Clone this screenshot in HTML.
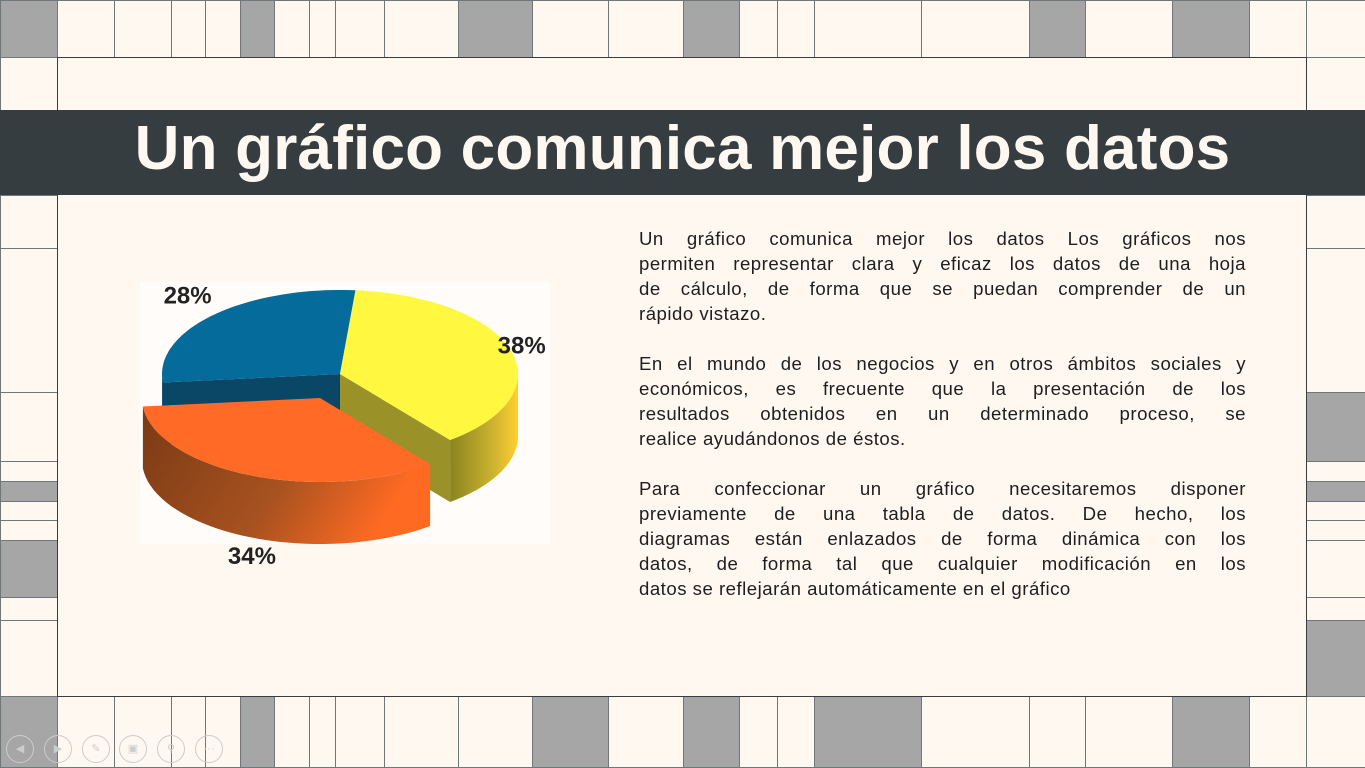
<!DOCTYPE html>
<html><head><meta charset="utf-8">
<style>
html,body{margin:0;padding:0;}
body{width:1365px;height:767px;position:relative;overflow:hidden;background:#fff8f0;font-family:"Liberation Sans",sans-serif;}
.c{position:absolute;box-sizing:border-box;border:1px solid #6f7779;background:#fff8f0;}
.g{background:#a6a6a6;}
#frame{position:absolute;left:57px;top:57px;width:1250px;height:640px;box-sizing:border-box;border:1.5px solid #3a3d3f;background:#fff8f0;}
#title-bar{position:absolute;left:0;top:110px;width:1365px;height:85px;background:#363d40;}
#title{position:absolute;left:0;top:110px;width:1365px;height:85px;line-height:78px;text-align:center;color:#fff8f0;font-weight:bold;font-size:62px;letter-spacing:0.2px;margin:0;}
#text{position:absolute;left:639px;top:226px;width:607px;font-size:18.6px;letter-spacing:0.5px;color:#1e1e1e;line-height:25px;}
.l{text-align:justify;text-align-last:justify;white-space:nowrap;}
.last{text-align:left;text-align-last:left;}
.sp{height:25px;}
.nav{position:absolute;top:735px;width:28px;height:28px;border-radius:50%;border:1px solid #ccc;box-sizing:border-box;color:#ccc;font-size:11px;text-align:center;line-height:26px;}
</style></head><body>
<div id="grid"></div>
<div id="frame"></div>
<div id="title-bar"></div>
<h1 id="title">Un gráfico comunica mejor los datos</h1>

<svg id="pie" width="1365" height="767" style="position:absolute;left:0;top:0">
<defs>
<linearGradient id="og" x1="0" y1="0" x2="1" y2="0.3"><stop offset="0" stop-color="#7a3a14"/><stop offset="0.6" stop-color="#a85220"/><stop offset="1" stop-color="#ff6a22"/></linearGradient>
<linearGradient id="yg" x1="0" y1="0" x2="1" y2="0"><stop offset="0" stop-color="#8a8420"/><stop offset="0.6" stop-color="#c9b030"/><stop offset="1" stop-color="#ffd030"/></linearGradient>
<linearGradient id="bg" x1="0" y1="0" x2="1" y2="0"><stop offset="0" stop-color="#0b3d5c"/><stop offset="1" stop-color="#044a70"/></linearGradient>
</defs>
<rect x="140" y="282" width="410" height="262" fill="#ffffff" opacity="0.6"/>
</svg>

<div id="text">
<div class="l">Un gráfico comunica mejor los datos Los gráficos nos</div>
<div class="l">permiten representar clara y eficaz los datos de una hoja</div>
<div class="l">de cálculo, de forma que se puedan comprender de un</div>
<div class="l last">rápido vistazo.</div>
<div class="sp"></div>
<div class="l">En el mundo de los negocios y en otros ámbitos sociales y</div>
<div class="l">económicos, es frecuente que la presentación de los</div>
<div class="l">resultados obtenidos en un determinado proceso, se</div>
<div class="l last">realice ayudándonos de éstos.</div>
<div class="sp"></div>
<div class="l">Para confeccionar un gráfico necesitaremos disponer</div>
<div class="l">previamente de una tabla de datos. De hecho, los</div>
<div class="l">diagramas están enlazados de forma dinámica con los</div>
<div class="l">datos, de forma tal que cualquier modificación en los</div>
<div class="l last">datos se reflejarán automáticamente en el gráfico</div>
</div>

<div class="nav" style="left:6px">◀</div>
<div class="nav" style="left:44px">▶</div>
<div class="nav" style="left:82px">✎</div>
<div class="nav" style="left:119px">▣</div>
<div class="nav" style="left:157px">⚲</div>
<div class="nav" style="left:195px">···</div>

<script>
const grid=document.getElementById('grid');
function cell(x0,y0,x1,y1,gray,name){
  const d=document.createElement('div');
  d.className='c'+(gray?' g':'');
  d.style.left=x0+'px';d.style.top=y0+'px';d.style.width=(x1-x0+1)+'px';d.style.height=(y1-y0+1)+'px';
  
  
  grid.appendChild(d);
}
const xs=[0,57,114,171,205,240,274,309,335,384,458,532,608,683,739,777,814,921,1029,1085,1172,1249,1306,1365];
const topGray=[0,240,458,683,1029,1172];
const botGray=[0,240,532,683,814,1172];
for(let i=0;i<xs.length-1;i++){
  cell(xs[i],0,xs[i+1],57,topGray.includes(xs[i]),'top-tile');
  cell(xs[i],696,xs[i+1],767,botGray.includes(xs[i]),'bottom-tile');
}
const ly=[57,110,195,248,392,461,481,501,520,540,597,620,696];
const leftGray=[481,540];
const rightGray=[392,481,620];
for(let i=0;i<ly.length-1;i++){
  cell(0,ly[i],57,ly[i+1],leftGray.includes(ly[i]),'left-tile');
  cell(1306,ly[i],1365,ly[i+1],rightGray.includes(ly[i]),'right-tile');
}

// pie data
const categories=['Amarillo','Naranja','Azul'];
const values=[38,34,28];
const labels=['38%','34%','28%'];
const colors=['#fff740','#ff6a26','#046b9a'];
const sides=['url(#yg)','url(#og)','url(#bg)'];

const svg=document.getElementById('pie');
const NS='http://www.w3.org/2000/svg';
const cx=340,cy=374,rx=178,ry=84,depth=62,startDeg=5;
const explode=[[0,0],[-20,24],[0,0]];
function pt(a,ox,oy,dy){const r=a*Math.PI/180;return [cx+ox+rx*Math.sin(r),cy+oy-ry*Math.cos(r)+dy];}
const total=values.reduce((a,b)=>a+b,0);
let acc=startDeg;const slices=[];
values.forEach((v,i)=>{const a0=acc,a1=acc+v/total*360;slices.push({a0,a1,i});acc=a1;});
function add(tag,attrs,name){const e=document.createElementNS(NS,tag);for(const k in attrs)e.setAttribute(k,attrs[k]);
  
  
  svg.appendChild(e);return e;}
function cutFace(a,ox,oy,fill){
  const p=pt(a,ox,oy,0),q=pt(a,ox,oy,depth);
  const d=`M${cx+ox} ${cy+oy}L${p[0]} ${p[1]}L${q[0]} ${q[1]}L${cx+ox} ${cy+oy+depth}Z`;
  add('path',{d,fill},'pie-cut-face');
}
const order=[2,0,1];
order.forEach(i=>{
  const s=slices[i];const [ox,oy]=explode[i];
  if(i===2) cutFace(s.a0,ox,oy,'#0a4766');
  if(i===0) cutFace(s.a1,ox,oy,'#9a9228');
  const lo=Math.max(s.a0,90),hi=Math.min(s.a1,270);
  if(hi>lo){
    let d='';const n=40;
    for(let k=0;k<=n;k++){const a=lo+(hi-lo)*k/n;const p=pt(a,ox,oy,0);d+=(k?'L':'M')+p[0].toFixed(1)+' '+p[1].toFixed(1);}
    for(let k=n;k>=0;k--){const a=lo+(hi-lo)*k/n;const p=pt(a,ox,oy,depth);d+='L'+p[0].toFixed(1)+' '+p[1].toFixed(1);}
    add('path',{d:d+'Z',fill:sides[i]},'pie-side-'+categories[i].toLowerCase());
  }
  let d=`M${cx+ox} ${cy+oy}`;const n=60;
  for(let k=0;k<=n;k++){const a=s.a0+(s.a1-s.a0)*k/n;const p=pt(a,ox,oy,0);d+='L'+p[0].toFixed(1)+' '+p[1].toFixed(1);}
  add('path',{d:d+'Z',fill:colors[i]},'pie-slice-'+categories[i].toLowerCase());
});
slices.forEach(s=>{
  const mid=(s.a0+s.a1)/2;const r=mid*Math.PI/180;const c=Math.cos(r);
  const x=cx+200*Math.sin(r)-10,y=cy-120*c+14+(c<0?-c*depth*1.15:0);
  const t=add('text',{x:x.toFixed(1),y:y.toFixed(1),'text-anchor':'middle','font-family':'Liberation Sans, sans-serif','font-weight':'bold','font-size':'24',fill:'#222'},'pie-label');
  t.textContent=labels[s.i];
});
</script>
</body></html>
